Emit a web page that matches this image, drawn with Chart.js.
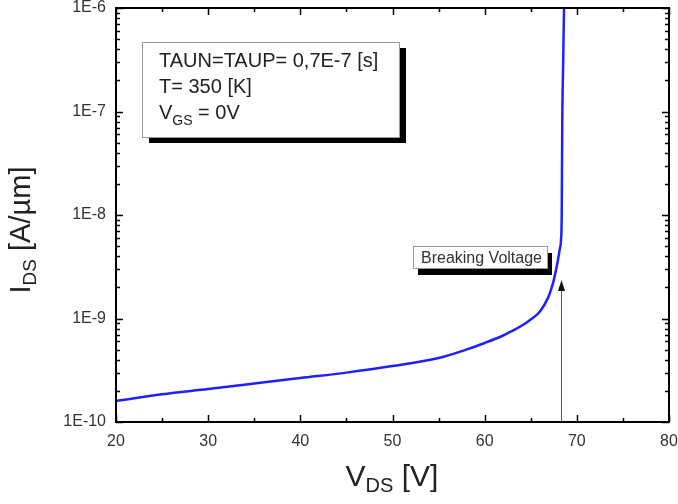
<!DOCTYPE html>
<html>
<head>
<meta charset="utf-8">
<script src="https://cdn.jsdelivr.net/npm/chart.js@4/dist/chart.umd.min.js"></script>
<style>
  body { margin: 0; background: #fff; }
  canvas { display: block; }
</style>
</head>
<body>
<canvas id="chart" width="678" height="504"></canvas>
<script>
// Drain current vs drain voltage
const vds = [20, 25, 30, 35, 40, 45, 50, 55, 58, 60, 62, 63, 64, 65, 66, 66.9, 67.2, 67.5, 67.95, 68.15, 68.28, 68.36, 68.42, 68.52, 68.6, 68.62];
const ids = [1.6e-10, 1.85e-10, 2.08e-10, 2.35e-10, 2.66e-10, 3.0e-10, 3.47e-10, 4.15e-10, 5.0e-10, 5.8e-10, 6.85e-10, 7.6e-10, 8.5e-10, 9.8e-10, 1.17e-9, 1.6e-9, 1.9e-9, 2.35e-9, 3.67e-9, 4.7e-9, 5.7e-9, 1.0e-8, 8e-8, 3e-7, 8.9e-7, 1e-6];

// Axis ranges and ticks
const xMin = 20, xMax = 80, xStep = 10;
const yMin = 1e-10, yMax = 1e-6;

// Breakdown arrow (x position, top of arrow)
const breakV = 68.28;
const arrowTop = 2.35e-9;

const legendLines = ['TAUN=TAUP= 0,7E-7 [s]', 'T= 350 [K]'];

const FONT = '"Liberation Sans", Arial, sans-serif';

// draws text with a subscript part: parts = [[text, size, dy], ...]
function drawParts(ctx, parts, x, y) {
  let cx = x;
  parts.forEach(([t, size, dy]) => {
    ctx.font = size + 'px ' + FONT;
    ctx.fillText(t, cx, y + dy);
    cx += ctx.measureText(t).width;
  });
}
function partsWidth(ctx, parts) {
  let w = 0;
  parts.forEach(([t, size]) => {
    ctx.font = size + 'px ' + FONT;
    w += ctx.measureText(t).width;
  });
  return w;
}

function boxWithShadow(ctx, x, y, w, h, dx, dy) {
  ctx.fillStyle = '#000';
  ctx.fillRect(x + dx, y + dy, w, h);
  ctx.fillStyle = '#fff';
  ctx.fillRect(x, y, w, h);
  ctx.strokeStyle = '#999';
  ctx.lineWidth = 1;
  ctx.strokeRect(x + 0.5, y + 0.5, w, h);
}

const decorPlugin = {
  id: 'decor',
  afterDatasetsDraw(chart) {
    const ctx = chart.ctx;
    const a = chart.chartArea;
    const xs = chart.scales.x, ys = chart.scales.y;
    ctx.save();

    // frame
    ctx.strokeStyle = '#000';
    ctx.lineWidth = 2;
    ctx.strokeRect(a.left, a.top, a.right - a.left, a.bottom - a.top);

    // x ticks (inside, bottom and top)
    ctx.lineWidth = 1.5;
    ctx.beginPath();
    for (let v = xMin; v <= xMax; v += xStep / 2) {
      const px = Math.round(xs.getPixelForValue(v)) + 0.5;
      const len = (v % xStep === 0) ? 7 : 4;
      ctx.moveTo(px, a.bottom); ctx.lineTo(px, a.bottom - len);
      ctx.moveTo(px, a.top); ctx.lineTo(px, a.top + len);
    }
    // y ticks (log, inside, left and right)
    for (let e = Math.log10(yMin); e < Math.log10(yMax) + 0.5; e++) {
      for (let m = 1; m <= 9; m++) {
        const v = m * Math.pow(10, e);
        if (v > yMax * 1.0001) break;
        const py = Math.round(ys.getPixelForValue(v)) + 0.5;
        const len = m === 1 ? 7 : 4;
        ctx.moveTo(a.left, py); ctx.lineTo(a.left + len, py);
        ctx.moveTo(a.right, py); ctx.lineTo(a.right - len, py);
      }
    }
    ctx.stroke();

    // breakdown arrow
    const ax = Math.round(xs.getPixelForValue(breakV)) + 0.5;
    const ay = ys.getPixelForValue(arrowTop);
    ctx.strokeStyle = '#555';
    ctx.lineWidth = 1;
    ctx.beginPath();
    ctx.moveTo(ax, a.bottom);
    ctx.lineTo(ax, ay + 8);
    ctx.stroke();
    ctx.fillStyle = '#111';
    ctx.beginPath();
    ctx.moveTo(ax, ay);
    ctx.lineTo(ax - 3.5, ay + 11);
    ctx.lineTo(ax + 3.5, ay + 11);
    ctx.closePath();
    ctx.fill();

    // "Breaking Voltage" label
    boxWithShadow(ctx, 413, 246, 134, 22, 5, 7);
    ctx.fillStyle = '#333';
    ctx.textBaseline = 'alphabetic';
    ctx.textAlign = 'left';
    ctx.font = '16px ' + FONT;
    ctx.fillText('Breaking Voltage', 421, 263);

    // parameter box
    boxWithShadow(ctx, 142, 42, 257, 95, 7, 6);
    ctx.fillStyle = '#222';
    ctx.font = '20px ' + FONT;
    ctx.fillText(legendLines[0], 159, 67);
    ctx.fillText(legendLines[1], 159, 93);
    drawParts(ctx, [['V', 20, 0], ['GS', 14, 6], [' = 0V', 20, 0]], 159, 119);

    // axis titles
    ctx.fillStyle = '#222';
    const xt = [['V', 30, 0], ['DS', 20, 6], [' [V]', 30, 0]];
    drawParts(ctx, xt, 392 - partsWidth(ctx, xt) / 2, 486);

    const yt = [['I', 29, 0], ['DS', 19, 6], [' [A/\u00b5m]', 29, 0]];
    ctx.translate(30, 230);
    ctx.rotate(-Math.PI / 2);
    drawParts(ctx, yt, -partsWidth(ctx, yt) / 2, 0);

    ctx.restore();
  }
};

new Chart(document.getElementById('chart'), {
  type: 'line',
  data: {
    datasets: [{
      data: vds.map((v, i) => ({ x: v, y: ids[i] })),
      borderColor: '#2020ff',
      borderWidth: 2.5,
      pointRadius: 0,
      cubicInterpolationMode: 'monotone',
      fill: false
    }]
  },
  options: {
    responsive: false,
    animation: false,
    devicePixelRatio: 1,
    layout: { padding: { top: 8, right: 9, left: 0, bottom: 0 } },
    plugins: { legend: { display: false }, tooltip: { enabled: false } },
    scales: {
      x: {
        type: 'linear',
        min: xMin, max: xMax,
        grid: { display: false, drawTicks: false },
        border: { display: false },
        ticks: { stepSize: xStep, padding: 10, color: '#333', font: { family: FONT, size: 16 } },
        afterFit: (s) => { s.height = 82; s.paddingLeft = 0; s.paddingRight = 0; }
      },
      y: {
        type: 'logarithmic',
        min: yMin, max: yMax,
        grid: { display: false, drawTicks: false },
        border: { display: false },
        ticks: {
          autoSkip: false,
          padding: 10,
          color: '#333',
          font: { family: FONT, size: 16 },
          callback: (v) => {
            const e = Math.log10(v);
            return Math.abs(e - Math.round(e)) < 1e-6 ? '1E' + Math.round(e) : '';
          }
        },
        afterFit: (s) => { s.width = 116; s.paddingTop = 0; s.paddingBottom = 0; }
      }
    }
  },
  plugins: [decorPlugin]
});
</script>
</body>
</html>
